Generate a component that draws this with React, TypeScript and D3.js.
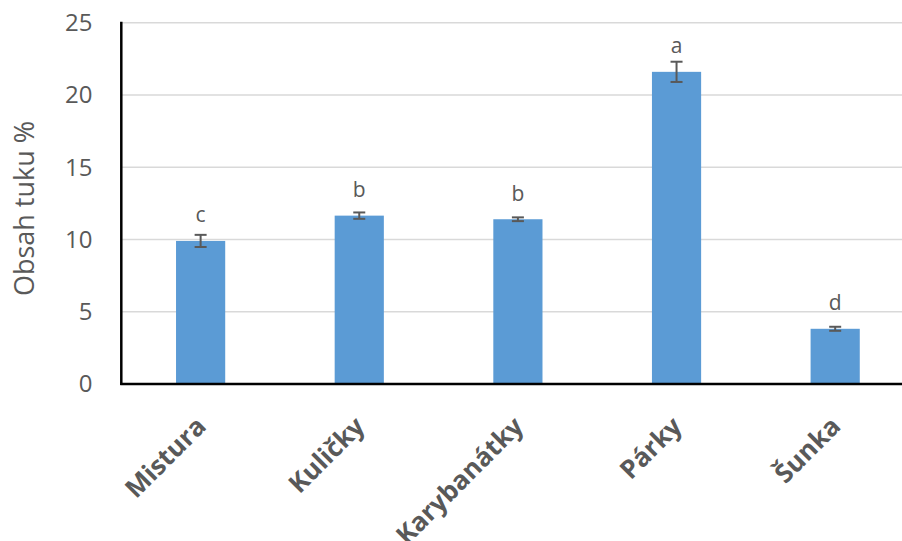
import React from "react";
import * as d3 from "d3";

const categories = ["Mistura", "Kuličky", "Karybanátky", "Párky", "Šunka"];
const values = [9.9, 11.65, 11.4, 21.6, 3.82];
const errors = [0.42, 0.22, 0.13, 0.7, 0.14];
const letters = ["c", "b", "b", "a", "d"];
const yTicks = [0, 5, 10, 15, 20, 25];
const yLabel = "Obsah tuku %";

const W = 902;
const H = 541;
const left = 121.3;
const right = 914.5;
const top = 22.7;
const bottom = 384;

export default function App() {
  const x = d3
    .scaleBand<string>()
    .domain(categories)
    .range([left, right])
    .paddingInner(0.69)
    .paddingOuter(0.345);
  const y = d3.scaleLinear().domain([0, 25]).range([bottom, top]);
  const font = "'Open Sans', sans-serif";
  const gray = "#595959";

  return (
    <svg
      width={W}
      height={H}
      style={{ position: "absolute", left: 0, top: 0, background: "#fff" }}
      fontFamily={font}
    >
      <rect width={W} height={H} fill="#fff" />
      {yTicks.map((t) =>
        t === 0 ? null : (
          <line
            key={"g" + t}
            x1={left}
            x2={W}
            y1={y(t)}
            y2={y(t)}
            stroke="#d9d9d9"
            strokeWidth={1.5}
          />
        )
      )}
      {yTicks.map((t) => (
        <text
          key={"t" + t}
          x={92.5}
          y={y(t)}
          dy="0.35em"
          textAnchor="end"
          fontSize={24}
          fill={gray}
        >
          {t}
        </text>
      ))}
      <text
        transform={`translate(34,208.5) rotate(-90)`}
        textAnchor="middle"
        fontSize={27}
        fill={gray}
      >
        {yLabel}
      </text>
      {categories.map((c, i) => {
        const bx = x(c)!;
        const bw = x.bandwidth();
        const cx = bx + bw / 2;
        return (
          <g key={c}>
            <rect
              x={bx}
              y={y(values[i])}
              width={bw}
              height={y(0) - y(values[i])}
              fill="#5B9BD5"
            />
            <line
              x1={cx}
              x2={cx}
              y1={y(values[i] + errors[i])}
              y2={y(values[i] - errors[i])}
              stroke={gray}
              strokeWidth={2}
            />
            <line
              x1={cx - 6}
              x2={cx + 6}
              y1={y(values[i] + errors[i])}
              y2={y(values[i] + errors[i])}
              stroke={gray}
              strokeWidth={2}
            />
            <line
              x1={cx - 6}
              x2={cx + 6}
              y1={y(values[i] - errors[i])}
              y2={y(values[i] - errors[i])}
              stroke={gray}
              strokeWidth={2}
            />
            <text
              x={cx}
              y={y(values[i]) - 18.5}
              textAnchor="middle"
              fontSize={21}
              fill={gray}
            >
              {letters[i]}
            </text>
            <text
              transform={`translate(${cx + 7},428) rotate(-45)`}
              textAnchor="end"
              fontSize={26}
              fontWeight="bold"
              fill={gray}
            >
              {c}
            </text>
          </g>
        );
      })}
      <line x1={left} x2={left} y1={top - 1} y2={bottom + 1} stroke="#000" strokeWidth={2.5} />
      <line x1={left - 1} x2={W} y1={bottom} y2={bottom} stroke="#000" strokeWidth={2.5} />
    </svg>
  );
}
